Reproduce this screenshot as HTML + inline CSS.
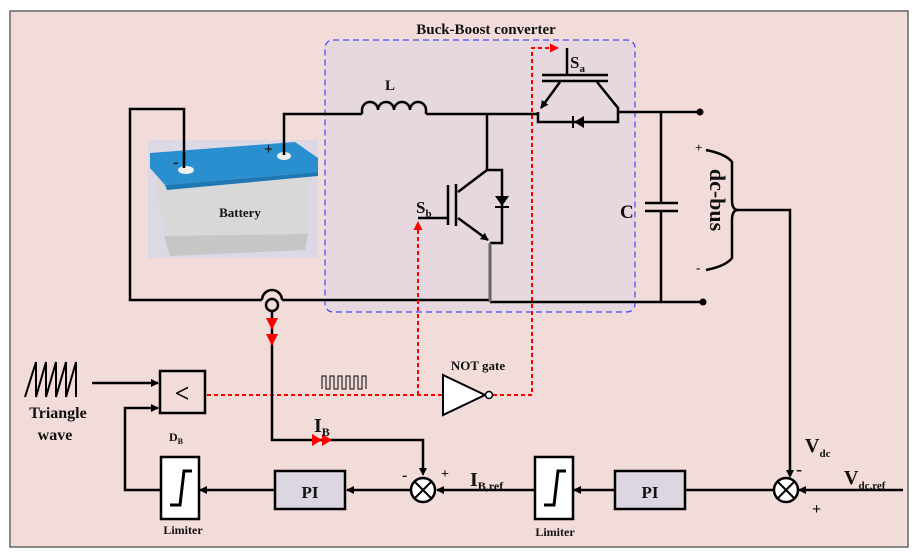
<!DOCTYPE html>
<html><head><meta charset="utf-8"><style>
html,body{margin:0;padding:0;background:#fff}
svg{display:block}
text{font-family:"Liberation Serif",serif;font-weight:bold;fill:#111}
</style></head><body>
<svg width="919" height="558" viewBox="0 0 919 558" xmlns="http://www.w3.org/2000/svg">
<defs>
<marker id="ab" markerWidth="8" markerHeight="8" refX="7" refY="4" orient="auto" markerUnits="userSpaceOnUse"><path d="M0,0 L8,4 L0,8 z" fill="#000"/></marker>
<marker id="ar" markerWidth="9" markerHeight="9" refX="8" refY="4.5" orient="auto" markerUnits="userSpaceOnUse"><path d="M0,0 L9,4.5 L0,9 z" fill="#f00"/></marker>
</defs>
<rect x="10" y="11" width="898" height="536" fill="#f2dcda" stroke="#666" stroke-width="1.5"/>
<rect x="325" y="40" width="310" height="272" rx="8" fill="#e6d8de" stroke="#4545ff" stroke-width="1.2" stroke-dasharray="6,4"/>
<text x="486" y="34" font-size="15" text-anchor="middle">Buck-Boost converter</text>

<!-- battery -->
<rect x="148" y="140" width="170" height="118" fill="#ddd8e6"/>
<path d="M154,170 L168,255 L305,250 L312,165 z" fill="#d8d8d8"/>
<path d="M164,236 L170,256 L305,250 L308,234 z" fill="#c6c6c6"/>
<path d="M150,153 L295,142 L318,158 L318,172 L165,185 L150,168 z" fill="#2a8fcf"/>
<path d="M165,185 L318,172 L318,176 L167,190 z" fill="#1f78b4"/>
<ellipse cx="186" cy="170" rx="8" ry="4" fill="#eee"/>
<ellipse cx="284" cy="156" rx="7" ry="4" fill="#eee"/>
<text x="173" y="167" font-size="16">-</text>
<text x="264" y="154" font-size="16" font-weight="normal">+</text>
<text x="240" y="217" font-size="13" text-anchor="middle">Battery</text>

<g stroke="#000" stroke-width="2.5" fill="none">
<polyline points="184,168 184,109 130,109 130,300 262,300"/>
<path d="M262,300 a10,10 0 0 1 20,0"/>
<line x1="282" y1="300" x2="490" y2="300"/>
<polyline points="284,155 284,114 362,114"/>
<path d="M362,114 v-4 a8,8 0 0 1 16,0 a8,8 0 0 1 16,0 a8,8 0 0 1 16,0 a8,8 0 0 1 16,0 v4"/>
<line x1="426" y1="114" x2="538" y2="114"/>
<line x1="618" y1="112" x2="700" y2="112"/>
<line x1="661" y1="112" x2="661" y2="203"/>
<line x1="661" y1="211" x2="661" y2="302"/>
<line x1="645" y1="203" x2="678" y2="203"/>
<line x1="645" y1="211" x2="678" y2="211"/>
<line x1="490" y1="302" x2="703" y2="302"/>
<polyline points="487,114 487,170 502,170 502,243 490,243"/>
<line x1="487" y1="170" x2="458" y2="192"/>
<line x1="458" y1="218" x2="488" y2="240" marker-end="url(#ab)"/>
<line x1="448" y1="185" x2="448" y2="225"/>
<line x1="456" y1="184" x2="456" y2="226"/>
<line x1="418" y1="218" x2="448" y2="218"/>
<line x1="567" y1="48" x2="567" y2="74"/>
<line x1="542" y1="75" x2="608" y2="75"/>
<line x1="542" y1="81" x2="608" y2="81"/>
<line x1="560" y1="82" x2="541" y2="108" marker-end="url(#ab)"/>
<polyline points="597,82 618,108 618,122 538,122 538,112"/>
<path d="M706,150 q20,4 26,12 v38 q0,10 6,10 q-6,0 -6,10 v38 q-6,8 -26,12"/>
<polyline points="738,210 790,210 790,476" />
</g>
<line x1="490" y1="243" x2="490" y2="302" stroke="#666" stroke-width="3"/>
<path d="M495,196 h14 l-7,10 z" fill="#000"/><line x1="495" y1="207" x2="509" y2="207" stroke="#000" stroke-width="2"/>
<path d="M584,116 v12 l-10,-6 z" fill="#000"/><line x1="573" y1="116" x2="573" y2="128" stroke="#000" stroke-width="2"/>
<circle cx="272" cy="305" r="6" fill="none" stroke="#000" stroke-width="2.5"/>
<circle cx="700" cy="112" r="3.5" fill="#000"/><circle cx="703" cy="302" r="3.5" fill="#000"/>
<text x="390" y="90" font-size="15" text-anchor="middle">L</text>
<text x="570" y="68" font-size="17">S<tspan font-size="11" dy="4">a</tspan></text>
<text x="416" y="213" font-size="17">S<tspan font-size="11" dy="4">b</tspan></text>
<text x="620" y="218" font-size="19">C</text>
<text x="695" y="152" font-size="13" font-weight="normal">+</text>
<text x="696" y="272" font-size="13" font-weight="normal">-</text>
<text transform="translate(710,200) rotate(90)" font-size="22" text-anchor="middle" font-weight="normal">dc-bus</text>

<g stroke="#f00" stroke-width="2" fill="none" stroke-dasharray="4,3">
<polyline points="418,395 418,222" marker-end="url(#ar)"/>
<line x1="207" y1="395" x2="443" y2="395"/>
<polyline points="493,395 532,395 532,48 558,48" marker-end="url(#ar)"/>
</g>
<path d="M322,389 v-13 h4 v13 h4 v-13 h4 v13 h4 v-13 h4 v13 h4 v-13 h4 v13 h4 v-13 h4 v13 h4 v-13 h4 v13" fill="none" stroke="#000" stroke-width="1"/>
<path d="M443,375 L485,395 L443,415 z" fill="#fff" stroke="#000" stroke-width="2"/>
<circle cx="489" cy="395" r="3.5" fill="#fff" stroke="#000" stroke-width="1.5"/>
<text x="478" y="370" font-size="13" text-anchor="middle">NOT gate</text>

<g stroke="#000" stroke-width="2.5" fill="none">
<polyline points="272,311 272,440 423,440 423,472" />
<line x1="92" y1="383" x2="158" y2="383" marker-end="url(#ab)"/>
<polyline points="160,490 125,490 125,408 158,408" marker-end="url(#ab)"/>
<line x1="275" y1="490" x2="200" y2="490" marker-end="url(#ab)"/>
<line x1="411" y1="490" x2="347" y2="490" marker-end="url(#ab)"/>
<line x1="536" y1="490" x2="437" y2="490" marker-end="url(#ab)"/>
<line x1="615" y1="490" x2="574" y2="490" marker-end="url(#ab)"/>
<line x1="773" y1="490" x2="686" y2="490"/>
<line x1="903" y1="490" x2="799" y2="490" marker-end="url(#ab)"/>
</g>
<path d="M419,468 h8 l-4,8 z" fill="#000"/>
<path d="M786,470 h8 l-4,8 z" fill="#000"/>
<path d="M266,318 h12 l-6,12 z M266,334 h12 l-6,12 z" fill="#f00"/>
<path d="M312,434 v12 l10,-6 z M322,434 v12 l10,-6 z" fill="#f00"/>
<polyline points="25,397 36,362 36,397 46,362 46,397 56,362 56,397 66,362 66,397 76,362 76,397" fill="none" stroke="#000" stroke-width="2"/>
<rect x="160" y="371" width="45" height="42" fill="#f2dcda" stroke="#000" stroke-width="2.5"/>
<text x="182" y="402" font-size="26" font-weight="normal" text-anchor="middle" font-family="Liberation Sans">&lt;</text>
<g stroke="#000" stroke-width="2.5">
<rect x="275" y="471" width="70" height="38" fill="#dcd6e2"/>
<rect x="615" y="471" width="70" height="38" fill="#dcd6e2"/>
<rect x="161" y="457" width="38" height="62" fill="#fff"/>
<rect x="535" y="457" width="38" height="62" fill="#fff"/>
<circle cx="423" cy="490" r="12" fill="#fff"/>
<circle cx="786" cy="490" r="12" fill="#fff"/>
</g>
<g stroke="#000" stroke-width="2"><path d="M415,482 l16,16 M431,482 l-16,16 M778,482 l16,16 M794,482 l-16,16"/></g>
<g stroke="#000" stroke-width="3" fill="none"><path d="M170,505 h10 l4,-34 h8 M544,505 h10 l4,-34 h8"/></g>
<text x="310" y="498" font-size="17" text-anchor="middle">PI</text>
<text x="650" y="498" font-size="17" text-anchor="middle">PI</text>
<text x="58" y="418" font-size="16" text-anchor="middle">Triangle</text>
<text x="55" y="440" font-size="16" text-anchor="middle">wave</text>
<text x="176" y="441" font-size="12" text-anchor="middle">D<tspan font-size="8" dy="3">B</tspan></text>
<text x="183" y="534" font-size="12" text-anchor="middle">Limiter</text>
<text x="555" y="536" font-size="12" text-anchor="middle">Limiter</text>
<text x="314" y="432" font-size="20">I<tspan font-size="12" dy="4">B</tspan></text>
<text x="470" y="486" font-size="20">I<tspan font-size="12" dy="4">B,ref</tspan></text>
<text x="805" y="452" font-size="20">V<tspan font-size="11" dy="5">dc</tspan></text>
<text x="844" y="484" font-size="20">V<tspan font-size="11" dy="5">dc,ref</tspan></text>
<text x="402" y="480" font-size="16" font-weight="normal">-</text>
<text x="441" y="478" font-size="14" font-weight="normal">+</text>
<text x="796" y="475" font-size="18" font-weight="normal">-</text>
<text x="812" y="514" font-size="16" font-weight="normal">+</text>
</svg>
</body></html>
